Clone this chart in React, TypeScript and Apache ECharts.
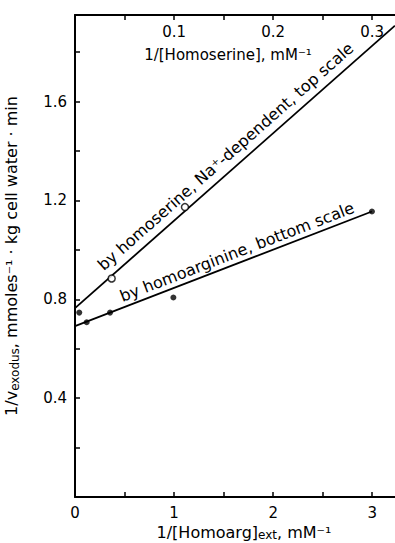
import React, { useEffect, useRef } from "react";
import * as echarts from "echarts";

// Bottom scale: 1/[Homoarg]ext, mM^-1 (filled points)
const homoargX = [0.043, 0.118, 0.354, 0.993, 2.997];
const homoargY = [0.746, 0.707, 0.746, 0.807, 1.155];
// Fitted line for homoarginine (bottom scale)
const homoargFit = [
  [0, 0.691],
  [2.997, 1.155],
];

// Top scale: 1/[Homoserine], mM^-1 (open points)
const homoserX = [0.037, 0.111];
const homoserY = [0.884, 1.173];
// Fitted line for homoserine (top scale)
const homoserFit = [
  [0, 0.764],
  [0.323, 1.907],
];

const yLabels = ["0.4", "0.8", "1.2", "1.6"];
const bottomLabels = ["0", "1", "2", "3"];
const topLabels = ["0.1", "0.2", "0.3"];

const FONT = "DejaVu Sans";

export default function App() {
  const ref = useRef<HTMLDivElement>(null);
  useEffect(() => {
    if (!ref.current) return;
    const chart = echarts.init(ref.current, undefined, { renderer: "svg" });
    const axisLine = { show: true, lineStyle: { color: "#000", width: 2 } };
    const tick = { show: true, inside: true, length: 5, lineStyle: { color: "#000", width: 1.5 } };
    const labelStyle = { color: "#000", fontFamily: FONT, fontSize: 15 };
    const fmt = (list: string[], digits: number) => (v: number) => {
      const s = v.toFixed(digits);
      return list.includes(s) && Math.abs(parseFloat(s) - v) < 1e-6 ? s : "";
    };
    const rich = {
      n: { fontFamily: FONT, fontSize: 16, lineHeight: 20, color: "#000" },
      sub: { fontFamily: FONT, fontSize: 12, lineHeight: 9, verticalAlign: "bottom", color: "#000" },
    };
    const richBottom = {
      n: { fontFamily: FONT, fontSize: 16, lineHeight: 16, color: "#000" },
      sub: { fontFamily: FONT, fontSize: 12, lineHeight: 6, verticalAlign: "bottom", color: "#000" },
    };
    chart.setOption({
      animation: false,
      grid: { left: 75, top: 15, right: 0, bottom: 46, containLabel: false, outerBoundsMode: "none" },
      graphic: [
        {
          type: "text",
          x: 228,
          y: 55,
          style: {
            text: "1/[Homoserine], mM⁻¹",
            fill: "#000",
            font: `15px "${FONT}"`,
            align: "center",
            verticalAlign: "middle",
          },
        },
      ],
      xAxis: [
        {
          type: "value",
          position: "bottom",
          min: 0,
          max: 3.23,
          interval: 0.5,
          axisLine,
          axisTick: tick,
          splitLine: { show: false },
          axisLabel: { ...labelStyle, margin: 8, formatter: fmt(bottomLabels, 0), showMaxLabel: false },
          name: "{n|1/[Homoarg]}{sub|ext}{n|, mM⁻¹}",
          nameLocation: "middle",
          nameGap: 26,
          nameTextStyle: {
            color: "#000",
            fontFamily: FONT,
            padding: [0, 0, 0, 18],
            rich: richBottom,
          },
        },
        {
          type: "value",
          position: "top",
          min: 0,
          max: 0.323,
          interval: 0.05,
          axisLine,
          axisTick: tick,
          splitLine: { show: false },
          axisLabel: { ...labelStyle, inside: true, margin: 9, formatter: fmt(topLabels, 1), showMaxLabel: false },
        },
      ],
      yAxis: {
        type: "value",
        min: 0,
        max: 1.95,
        interval: 0.2,
        axisLine,
        axisTick: tick,
        splitLine: { show: false },
        axisLabel: { ...labelStyle, margin: 8, formatter: fmt(yLabels, 1), showMaxLabel: false },
        name: "{n|1/v}{sub|exodus}{n|, mmoles⁻¹ · kg cell water · min}",
        nameLocation: "middle",
        nameRotate: 90,
        nameGap: 54,
        nameTextStyle: {
          color: "#000",
          fontFamily: FONT,
          rich,
        },
      },
      series: [
        {
          type: "scatter",
          name: "homoarginine",
          xAxisIndex: 0,
          data: homoargX.map((x, i) => [x, homoargY[i]]),
          symbol: "circle",
          symbolSize: 6,
          itemStyle: { color: "#000" },
          markLine: {
            silent: true,
            symbol: ["none", "none"],
            lineStyle: { color: "#000", width: 1.8, type: "solid" },
            label: {
              show: true,
              position: "insideStartTop",
              formatter: "by homoarginine, bottom scale",
              color: "#000",
              fontFamily: FONT,
              fontSize: 16,
              distance: 3,
              padding: [0, 0, 0, 50],
            },
            data: [[{ coord: homoargFit[0] }, { coord: homoargFit[1] }]],
          },
          z: 3,
        },
        {
          type: "scatter",
          name: "homoserine",
          xAxisIndex: 1,
          data: homoserX.map((x, i) => [x, homoserY[i]]),
          symbol: "circle",
          symbolSize: 7,
          itemStyle: { color: "#fff", borderColor: "#000", borderWidth: 1.5 },
          markLine: {
            silent: true,
            symbol: ["none", "none"],
            lineStyle: { color: "#000", width: 1.8, type: "solid" },
            label: {
              show: true,
              position: "insideStartTop",
              formatter: "by homoserine, Na⁺-dependent, top scale",
              color: "#000",
              fontFamily: FONT,
              fontSize: 16,
              distance: 6,
              padding: [0, 0, 0, 40],
            },
            data: [[{ coord: homoserFit[0] }, { coord: homoserFit[1] }]],
          },
          z: 5,
        },
      ],
    });
    return () => chart.dispose();
  }, []);
  return <div ref={ref} style={{ width: 395, height: 543, position: "absolute", left: 0, top: 0 }} />;
}
